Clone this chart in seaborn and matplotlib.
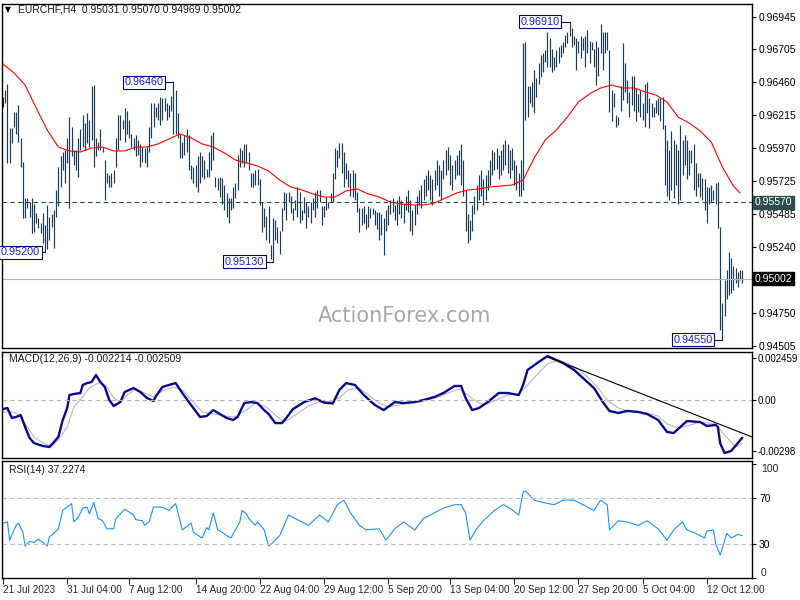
import numpy as np
import pandas as pd
import matplotlib
matplotlib.use("Agg")
import matplotlib.pyplot as plt
import matplotlib.transforms as mtransforms
import seaborn as sns

# ---- data (EURCHF H4) ----
highs = [
    0.9635,0.9640,0.9645,0.9612,0.9612,0.9624,0.9624,0.9629,0.9605,0.9587,
    0.9560,0.9560,0.9557,0.9560,0.9556,0.9549,0.9545,0.9542,0.9549,0.9540,
    0.9555,0.9546,0.9548,0.9551,0.9566,0.9583,0.9591,0.9594,0.9596,0.9605,
    0.9620,0.9613,0.9596,0.9596,0.9605,0.9611,0.9622,0.9616,0.9623,0.9618,
    0.9643,0.9644,0.9605,0.9602,0.9611,0.9598,0.9588,0.9579,0.9577,0.9579,
    0.9581,0.9605,0.9622,0.9622,0.9618,0.9627,
    0.9625,0.9618,0.9608,0.9605,0.9607,0.9603,0.9600,0.9598,0.9597,0.9598,
    0.9613,0.9631,0.9631,0.9628,0.9631,0.9635,0.9634,0.9634,0.9631,0.9629,
    0.9636,0.9646,0.9640,0.9623,0.9608,0.9602,0.9607,0.9611,0.9607,0.9585,
    0.9583,0.9585,0.9591,0.9594,0.9591,0.9588,0.9582,0.9594,0.9607,0.9609,
    0.9576,0.9575,0.9576,0.9575,0.9570,0.9564,0.9560,0.9560,0.9568,0.9571,
    0.9592,0.9597,0.9596,0.9600,0.9600,0.9594,0.9579,0.9579,
    0.9581,0.9582,0.9574,0.9557,0.9553,0.9547,0.9554,0.9525,0.9545,0.9544,
    0.9539,0.9536,0.9553,0.9565,0.9564,0.9565,0.9562,0.9553,0.9559,0.9568,
    0.9565,0.9551,0.9561,0.9557,0.9554,0.9557,0.9560,0.9565,0.9566,0.9566,
    0.9554,0.9554,0.9561,0.9557,0.9564,0.9579,0.9597,0.9596,0.9601,0.9601,
    0.9594,0.9586,0.9581,0.9579,0.9581,0.9579,0.9565,0.9553,0.9553,0.9554,
    0.9548,0.9554,0.9553,0.9553,0.9551,0.9550,0.9550,0.9548,0.9545,
    0.9551,0.9555,0.9559,0.9560,0.9555,0.9559,0.9562,0.9559,0.9556,0.9562,
    0.9566,0.9559,0.9551,0.9555,0.9562,0.9566,0.9570,0.9574,0.9577,0.9581,
    0.9577,0.9574,0.9581,0.9588,0.9585,0.9581,0.9588,0.9596,0.9598,0.9592,
    0.9585,0.9588,0.9592,0.9596,0.9600,0.9588,0.9566,0.9548,0.9544,0.9555,
    0.9562,0.9570,0.9577,0.9581,0.9574,0.9577,0.9581,0.9588,0.9596,0.9594,
    0.9597,0.9592,0.9596,0.9600,0.9603,0.9600,0.9596,0.9597,0.9588,0.9585,
    0.9579,
    0.9588,0.9675,0.9676,0.9643,0.9643,0.9646,0.9655,0.9649,0.9660,0.9666,
    0.9668,0.9670,0.9683,0.9679,0.9671,0.9665,0.9670,0.9672,0.9674,0.9676,
    0.9681,0.9683,0.9691,0.9686,0.9680,0.9679,0.9677,0.9680,0.9679,0.9680,
    0.9685,0.9677,0.9676,0.9671,0.9677,0.9672,0.9689,0.9683,0.9683,0.9683,
    0.9670,0.9640,0.9638,0.9622,0.9620,0.9643,0.9675,0.9660,0.9648,0.9639,
    0.9651,0.9651,0.9642,0.9637,0.9640,0.9631,0.9645,0.9646,0.9634,0.9631,
    0.9628,0.9633,0.9634,0.9634,0.9635,0.9614,0.9603,0.9596,0.9610,0.9603,
    0.9600,0.9596,0.9614,0.9603,0.9607,0.9603,0.9596,0.9596,0.9600,0.9586,
    0.9579,0.9579,0.9575,0.9574,0.9568,0.9568,0.9570,0.9566,0.9571,0.9572,
    0.9539,0.9482,0.9499,0.9507,0.9520,0.9516,0.9510,0.9508,0.9505,0.9507,
    0.9507,
]
lows = [
    0.9628,0.9631,0.9586,0.9586,0.9601,0.9613,0.9608,0.9602,0.9583,0.9545,
    0.9545,0.9553,0.9546,0.9534,0.9535,0.9542,0.9538,0.9534,0.9527,0.9520,
    0.9522,0.9529,0.9539,0.9523,0.9546,0.9554,0.9568,0.9581,0.9571,0.9586,
    0.9553,0.9591,0.9585,0.9581,0.9576,0.9596,0.9598,0.9596,0.9601,0.9598,
    0.9603,0.9583,0.9591,0.9596,0.9596,0.9594,0.9559,0.9571,0.9568,0.9568,
    0.9571,0.9583,0.9596,0.9603,0.9611,0.9602,
    0.9608,0.9605,0.9598,0.9596,0.9591,0.9592,0.9583,0.9587,0.9586,0.9583,
    0.9594,0.9605,0.9613,0.9620,0.9618,0.9614,0.9618,0.9625,0.9618,0.9620,
    0.9625,0.9608,0.9608,0.9605,0.9590,0.9590,0.9592,0.9594,0.9581,0.9574,
    0.9571,0.9568,0.9565,0.9571,0.9576,0.9574,0.9576,0.9576,0.9581,0.9588,
    0.9568,0.9566,0.9561,0.9556,0.9551,0.9546,0.9542,0.9551,0.9553,0.9560,
    0.9566,0.9583,0.9586,0.9583,0.9586,0.9581,0.9568,0.9568,
    0.9570,0.9570,0.9555,0.9535,0.9539,0.9529,0.9527,0.9515,0.9513,0.9529,
    0.9527,0.9519,0.9536,0.9551,0.9544,0.9557,0.9549,0.9544,0.9551,0.9546,
    0.9542,0.9544,0.9549,0.9538,0.9546,0.9542,0.9551,0.9546,0.9553,0.9557,
    0.9540,0.9546,0.9551,0.9553,0.9557,0.9557,0.9574,0.9583,0.9590,0.9579,
    0.9568,0.9574,0.9568,0.9562,0.9561,0.9559,0.9550,0.9535,0.9540,0.9542,
    0.9537,0.9539,0.9545,0.9548,0.9540,0.9537,0.9529,0.9533,0.9518,
    0.9536,0.9540,0.9548,0.9550,0.9544,0.9540,0.9548,0.9545,0.9542,0.9551,
    0.9550,0.9536,0.9533,0.9540,0.9548,0.9555,0.9553,0.9559,0.9562,0.9566,
    0.9559,0.9555,0.9566,0.9570,0.9562,0.9559,0.9574,0.9577,0.9581,0.9570,
    0.9566,0.9574,0.9577,0.9577,0.9570,0.9562,0.9536,0.9527,0.9529,0.9536,
    0.9548,0.9551,0.9559,0.9562,0.9555,0.9559,0.9566,0.9570,0.9577,0.9581,
    0.9582,0.9574,0.9577,0.9581,0.9585,0.9579,0.9575,0.9581,0.9570,0.9566,
    0.9562,
    0.9562,0.9566,0.9618,0.9620,0.9631,0.9628,0.9623,0.9635,0.9645,0.9650,
    0.9654,0.9661,0.9657,0.9657,0.9654,0.9655,0.9657,0.9660,0.9665,0.9668,
    0.9672,0.9675,0.9680,0.9672,0.9674,0.9655,0.9668,0.9664,0.9670,0.9657,
    0.9668,0.9660,0.9670,0.9657,0.9644,0.9651,0.9668,0.9655,0.9668,0.9670,
    0.9624,0.9617,0.9628,0.9613,0.9614,0.9625,0.9633,0.9639,0.9631,0.9620,
    0.9629,0.9625,0.9617,0.9624,0.9620,0.9618,0.9613,0.9623,0.9612,0.9620,
    0.9620,0.9623,0.9622,0.9617,0.9611,0.9570,0.9562,0.9559,0.9566,0.9560,
    0.9570,0.9556,0.9559,0.9577,0.9585,0.9574,0.9577,0.9586,0.9566,0.9562,
    0.9568,0.9561,0.9559,0.9551,0.9542,0.9556,0.9557,0.9559,0.9556,0.9538,
    0.9462,0.9455,0.9473,0.9485,0.9488,0.9490,0.9492,0.9497,0.9494,0.9499,
    0.9497,
]

# moving average (red), sampled every few bars
ma_idx = list(range(0, 331, 5)) + [333]
ma_val = [
    0.96596,0.96529,0.96440,0.96270,0.96106,0.95980,0.95951,0.95943,0.95973,0.95980,
    0.95951,0.95951,0.95980,0.95980,0.96003,0.96040,0.96077,0.96047,0.96003,0.95980,
    0.95936,0.95884,0.95862,0.95839,0.95802,0.95735,0.95684,0.95661,0.95632,0.95609,
    0.95609,0.95654,0.95669,0.95632,0.95609,0.95572,0.95557,0.95550,0.95550,0.95565,
    0.95602,0.95639,0.95661,0.95669,0.95684,0.95691,0.95698,0.95735,0.95899,0.96032,
    0.96106,0.96203,0.96314,0.96374,0.96418,0.96440,0.96418,0.96418,0.96389,0.96366,
    0.96314,0.96203,0.96158,0.96099,0.96017,0.95832,0.95691,0.95639,
]

macd_idx = [0,2,4,6,8,10,12,14,18,21,23,25,27,29,30,32,35,36,38,40,42,44,46,48,50,
            53,55,59,62,65,68,69,72,75,78,81,84,86,89,92,95,98,101,104,106,109,112,
            115,118,120,123,126,128,131,134,136,141,145,149,152,155,159,163,168,172,
            177,181,186,190,195,199,204,207,209,212,215,219,224,228,233,235,237,242,
            246,249,253,258,262,267,271,274,278,282,287,291,296,300,303,306,309,315,
            318,322,323,324,326,329,332,334]
macd_val = [-0.00053,-0.00047,-0.00105,-0.00099,-0.00088,-0.00158,-0.00222,-0.00252,
            -0.00269,-0.00275,-0.00246,-0.00216,-0.00117,-0.00047,0.00029,0.00035,
            0.00041,0.00088,0.00099,0.00105,0.00146,0.00105,0.00076,0.0,-0.00035,
            -0.00012,0.00047,0.00070,0.00047,0.00012,-0.00006,0.00020,0.00076,0.00088,
            0.00099,0.00041,-0.00012,-0.00047,-0.00099,-0.00094,-0.00059,-0.00082,
            -0.00105,-0.00117,-0.00099,-0.00018,-0.00012,-0.00018,-0.00059,-0.00082,
            -0.00135,-0.00135,-0.00105,-0.00053,-0.00029,-0.00012,0.00010,-0.00015,
            -0.00020,0.00059,0.00099,0.00088,0.00029,-0.00029,-0.00059,-0.00012,
            -0.00018,-0.00012,0.0,0.00018,0.00041,0.00082,0.00082,0.00012,-0.00059,
            -0.00047,-0.00012,0.00041,0.00041,0.00029,0.00088,0.00176,0.00222,0.00257,
            0.00240,0.00216,0.00176,0.00129,0.00070,-0.00012,-0.00064,-0.00076,
            -0.00064,-0.00070,-0.00082,-0.00117,-0.00187,-0.00193,-0.00158,-0.00123,
            -0.00129,-0.00152,-0.00146,-0.00158,-0.00252,-0.00310,-0.00298,-0.00252,
            -0.00221]

sig_idx = [0,5,8,11,14,18,22,25,29,32,36,39,44,47,50,53,56,60,65,68,72,77,81,86,90,
           95,101,105,110,114,119,124,127,131,134,138,143,147,152,156,161,165,170,174,
           179,183,188,192,197,201,206,210,215,219,224,228,233,237,242,246,251,255,260,
           264,269,273,278,282,287,291,296,300,305,309,315,322,326,331,334]
sig_val = [-0.00070,-0.00070,-0.00099,-0.00158,-0.00216,-0.00252,-0.00269,-0.00234,
           -0.00158,-0.00041,0.00018,0.00070,0.00105,0.00076,0.00012,-0.00012,0.00029,
           0.00064,0.00035,0.00018,0.00053,0.00076,0.00059,-0.00012,-0.00070,-0.00082,
           -0.00094,-0.00099,-0.00059,-0.00018,-0.00041,-0.00099,-0.00129,-0.00099,
           -0.00070,-0.00035,-0.00010,-0.00012,0.00012,0.00059,0.00070,0.00029,
           -0.00018,-0.00041,-0.00029,-0.00018,-0.00012,0.0,0.00018,0.00041,0.00064,
           0.00029,-0.00018,-0.00023,0.00006,0.00029,0.00035,0.00088,0.00158,0.00211,
           0.00234,0.00216,0.00181,0.00135,0.00070,0.0,-0.00047,-0.00064,-0.00070,
           -0.00076,-0.00094,-0.00140,-0.00164,-0.00152,-0.00129,-0.00140,-0.00205,
           -0.00275,-0.00251]

rsi_idx = [0,2,3,5,6,7,9,10,12,14,16,18,20,21,23,25,27,29,31,32,34,36,38,39,41,43,45,
           47,50,51,53,55,56,59,60,63,64,66,68,71,73,75,77,78,80,81,83,85,86,89,90,92,
           93,95,97,99,101,103,105,107,108,110,111,114,115,118,120,122,125,129,134,138,
           143,147,151,154,157,161,164,170,173,177,181,186,190,195,199,204,207,209,211,
           214,217,222,226,229,233,235,236,240,244,249,253,258,262,267,270,273,274,278,
           282,287,291,296,300,303,307,309,313,317,318,321,322,324,325,327,329,332,334]
rsi_val = [48,49,33,42,46,48,40,28,32,31,34,31,28,36,39,43,59,62,65,49,53,61,62,56,66,
           52,50,43,43,52,56,60,59,55,51,50,46,49,62,62,61,59,63,65,50,42,45,48,40,36,
           35,44,42,57,42,40,37,35,42,49,59,56,52,46,49,42,28,31,37,55,50,46,55,49,64,
           68,57,46,42,43,33,43,49,42,52,57,61,64,64,57,33,43,50,59,64,61,55,75,76,68,
           66,64,68,68,64,59,68,64,42,50,49,46,50,43,33,42,49,42,39,35,41,42,30,20,26,
           39,35,38,37.2]

date_idx = [0, 29, 57, 87, 116, 145, 174, 202, 231, 260, 289, 318]
date_labels = ["21 Jul 2023", "31 Jul 04:00", "7 Aug 12:00", "14 Aug 20:00",
               "22 Aug 04:00", "29 Aug 12:00", "5 Sep 20:00", "13 Sep 04:00",
               "20 Sep 12:00", "27 Sep 20:00", "5 Oct 04:00", "12 Oct 12:00"]
price_ticks = [0.96945, 0.96705, 0.96460, 0.96215, 0.95970, 0.95725, 0.95485,
               0.95240, 0.94750, 0.94505]
level_dash = 0.95570
last_price = 0.95002

# ---- styling ----
sns.set_theme(style="white")
plt.rcParams["font.family"] = ["Liberation Sans", "DejaVu Sans"]
FS = 7.5
bar_col = "#1b3b57"

df = pd.DataFrame({"i": np.arange(len(highs)), "high": highs, "low": lows})
n = len(df)
xmin, xmax = -0.45, 338.4

fig = plt.figure(figsize=(8, 6), dpi=100)
ax1 = fig.add_axes([2/800, 1-348/600, 750/800, 344/600])
ax2 = fig.add_axes([2/800, 1-458/600, 750/800, 106/600])
ax3 = fig.add_axes([2/800, 1-578/600, 750/800, 117/600])

for ax in (ax1, ax2, ax3):
    ax.set_xlim(xmin, xmax)
    ax.set_facecolor("white")
    for s in ax.spines.values():
        s.set_color("black")
        s.set_linewidth(1.0)
    ax.yaxis.tick_right()
    ax.tick_params(axis="y", direction="out", length=3, width=0.8, pad=2,
                   labelsize=FS, colors="black", right=True, left=False)
    ax.grid(False)
    ax.set_xlabel("")
    ax.set_ylabel("")

# main price panel
ax1.vlines(df["i"], df["low"], df["high"], color=bar_col, lw=0.85)
sns.lineplot(x=ma_idx, y=ma_val, ax=ax1, color="red", lw=0.8, estimator=None)
ax1.axhline(level_dash, color="#2f4f4f", lw=0.8, ls=(0, (4, 3)))
ax1.axhline(last_price, color="#b4b4b4", lw=0.8)
ax1.set_ylim(0.94489, 0.97041)
ax1.set_yticks(price_ticks)
ax1.set_yticklabels([f"{v:.5f}" for v in price_ticks])
ax1.set_xticks([])

tr = mtransforms.blended_transform_factory(ax1.transAxes, ax1.transData)
ax1.text(1.004, level_dash, f"{level_dash:.5f}", transform=tr, fontsize=FS,
         color="white", va="center", ha="left",
         bbox=dict(boxstyle="square,pad=0.15", fc="#2f4f4f", ec="#2f4f4f"))
ax1.text(1.004, last_price, f"{last_price:.5f}", transform=tr, fontsize=FS,
         color="white", va="center", ha="left",
         bbox=dict(boxstyle="square,pad=0.15", fc="black", ec="black"))

# swing labels: kind, search window, gap between box and bar (in bars)
hi = np.array(highs)
lo = np.array(lows)
swings = [("high", 230, 270, 4.5), ("high", 65, 100, 4.5), ("low", 0, 40, 2.2),
          ("low", 110, 140, 4.0), ("low", 300, n, 4.5)]
for kind, a, b, gap in swings:
    if kind == "high":
        k = a + int(np.argmax(hi[a:b]))
        v = hi[k]
    else:
        k = a + int(np.argmin(lo[a:b]))
        v = lo[k]
    ax1.plot([k - gap, k], [v, v], color="#000080", lw=0.8, zorder=4)
    ax1.text(k - gap, v, f"{v:.5f}", fontsize=7.8, color="#1c1cc8", ha="right",
             va="center", zorder=5,
             bbox=dict(boxstyle="square,pad=0.15", fc="white", ec="#000080", lw=0.8))

fig.text(18/800, 1-10/600, "EURCHF,H4  0.95031 0.95070 0.94969 0.95002",
         fontsize=FS, color="#1a1a1a", va="center")
fig.text(5/800, 1-10/600, "\u25bc", fontsize=5.5, color="black", va="center",
         family=["DejaVu Sans"])
fig.text(405/800, 1-316/600, "ActionForex.com", fontsize=15, color="#a8a8a8",
         ha="center", va="center", family=["DejaVu Sans"])

# MACD panel
sns.lineplot(x=sig_idx, y=sig_val, ax=ax2, color="#b8b8b8", lw=0.8, estimator=None)
sns.lineplot(x=macd_idx, y=macd_val, ax=ax2, color="#0a0a8c", lw=1.7, estimator=None)
ax2.axhline(0, color="#b4b4b4", lw=0.8, ls=(0, (4, 3)))
ax2.plot([246, 338.4], [0.00252, -0.00216], color="black", lw=0.8)
ax2.set_ylim(-0.003393, 0.002808)
ax2.set_yticks([0.002459, 0.0, -0.00298])
ax2.set_yticklabels(["0.002459", "0.00", "-0.00298"])
ax2.tick_params(axis="y", labelsize=7, pad=1)
ax2.set_xticks([])
ax2.text(7/750, 1-7/106, "MACD(12,26,9) -0.002214 -0.002509", transform=ax2.transAxes,
         fontsize=FS, va="center", ha="left", color="#1a1a1a")

# RSI panel
sns.lineplot(x=rsi_idx, y=rsi_val, ax=ax3, color="#1e90ff", lw=0.8, estimator=None)
for lv in (70, 30):
    ax3.axhline(lv, color="#c0c0c0", lw=0.8, ls=(0, (4, 3)))
ax3.set_ylim(0.4, 102.2)
ax3.set_yticks([100, 70, 30, 0])
ax3.set_yticklabels(["", "70", "30", ""])
tr3 = mtransforms.blended_transform_factory(ax3.transAxes, ax3.transData)
ax3.text(1.012, 100, "100", transform=tr3, fontsize=FS, va="top", ha="left")
ax3.text(1.012, 0.4, "0", transform=tr3, fontsize=FS, va="bottom", ha="left")
ax3.text(7/750, 1-9/117, "RSI(14) 37.2274", transform=ax3.transAxes,
         fontsize=FS, va="center", ha="left", color="#1a1a1a")
ax3.set_xticks(date_idx)
ax3.set_xticklabels(date_labels)
ax3.tick_params(axis="x", direction="out", length=4, width=0.8, pad=1,
                labelsize=7.2, bottom=True)
for lbl in ax3.get_xticklabels():
    lbl.set_ha("left")

for ax in (ax1, ax2, ax3):
    ax.set_xlim(xmin, xmax)

fig.savefig("out.png", dpi=100, facecolor="white")
